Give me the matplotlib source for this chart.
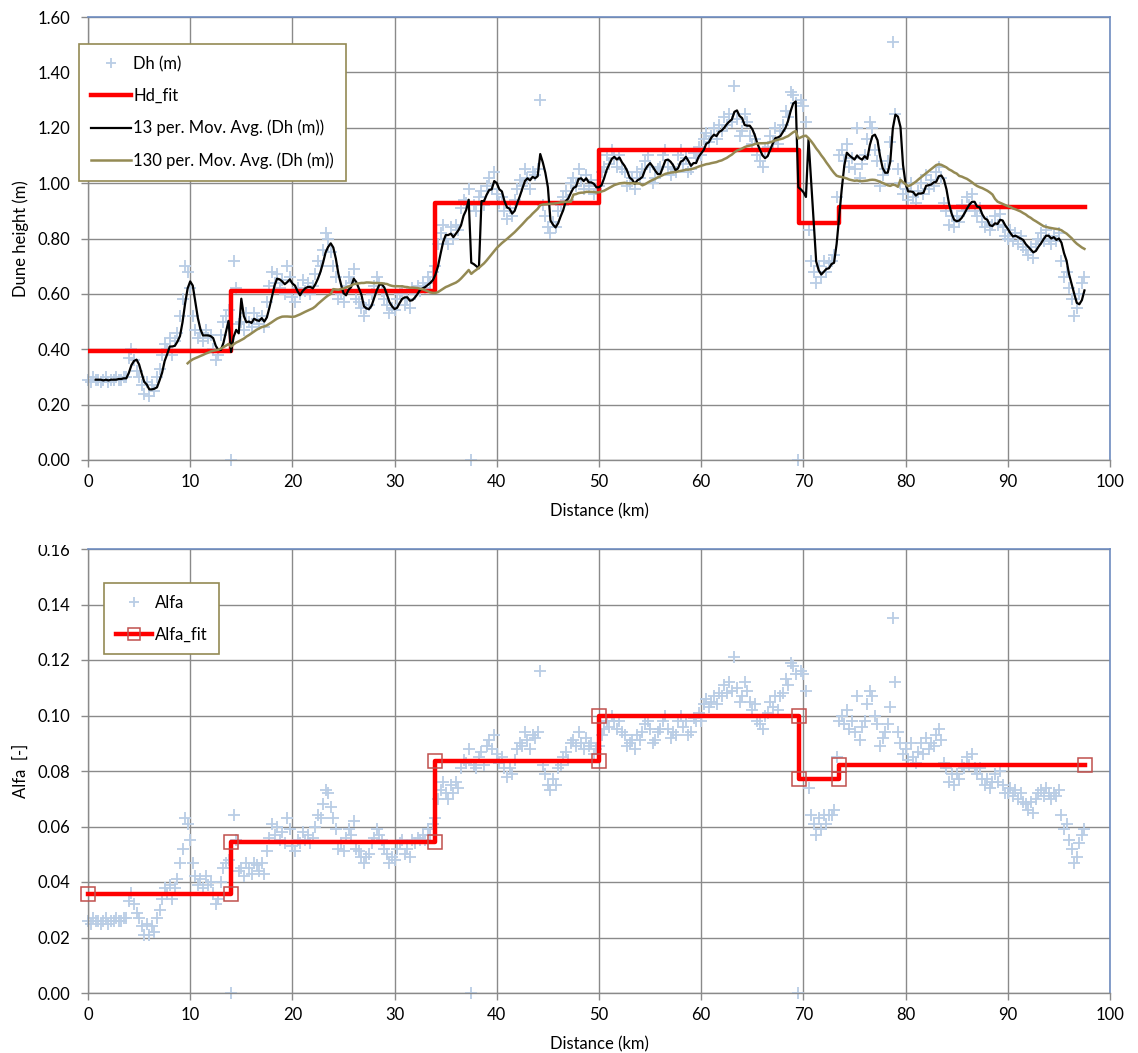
import numpy as np
import pandas as pd
import matplotlib
matplotlib.use("Agg")
import matplotlib.pyplot as plt
from matplotlib.patches import Rectangle
from matplotlib.ticker import FormatStrFormatter, MultipleLocator

# ---------------- data ----------------
STEP_KM = 0.25  # spacing of the readings along the river (km)

# Dune height readings, in centimetres, one every STEP_KM from 0 km
DH_CM = [
    29, 28, 30, 29, 29, 28, 29, 30, 28, 29, 29, 30, 29, 29, 30, 30,
    37, 40, 36, 32, 30, 27, 24, 28, 23, 27, 25, 30, 33, 38, 42, 40,
    44, 38, 43, 46, 52, 58, 70, 68, 62, 52, 47, 44, 46, 43, 47, 44,
    45, 40, 36, 38, 45, 50, 52, 54, 0, 72, 62, 49, 50, 47, 53, 50,
    48, 53, 51, 49, 52, 48, 57, 63, 68, 64, 67, 62, 65, 60, 70, 66,
    59, 57, 62, 60, 65, 61, 64, 60, 63, 67, 72, 70, 76, 82, 80, 75,
    70, 66, 58, 60, 57, 63, 66, 64, 69, 58, 57, 55, 52, 55, 56, 60,
    63, 66, 64, 61, 58, 56, 53, 55, 54, 58, 60, 61, 56, 58, 55, 62,
    60, 63, 61, 64, 62, 66, 64, 68, 70, 78, 82, 85, 80, 78, 84, 80,
    85, 83, 91, 94, 93, 98, 0, 92, 90, 95, 97, 92, 99, 102, 98, 104,
    96, 93, 95, 90, 87, 91, 88, 94, 98, 101, 99, 105, 102, 98, 104, 103,
    105, 130, 92, 88, 84, 82, 86, 84, 90, 92, 95, 97, 94, 100, 102, 99,
    105, 101, 98, 103, 99, 101, 96, 98, 99, 104, 106, 110, 107, 112, 109, 106,
    110, 105, 104, 99, 100, 102, 98, 104, 102, 105, 108, 110, 106, 100, 102, 105,
    106, 110, 112, 106, 103, 105, 104, 110, 112, 107, 109, 104, 105, 111, 109, 113,
    110, 116, 118, 115, 117, 120, 116, 121, 119, 124, 121, 125, 122, 135, 123, 117,
    119, 125, 122, 117, 114, 116, 110, 108, 106, 112, 113, 117, 115, 120, 114, 119,
    121, 126, 124, 133, 132, 129, 0, 130, 128, 122, 83, 72, 68, 64, 70, 66,
    72, 68, 71, 72, 74, 95, 110, 112, 108, 114, 106, 109, 105, 120, 102, 107,
    110, 116, 122, 120, 112, 108, 99, 103, 105, 108, 115, 151, 125, 105, 100, 96,
    98, 94, 100, 95, 93, 97, 100, 96, 103, 98, 101, 99, 104, 106, 102, 93,
    90, 85, 88, 84, 88, 86, 92, 90, 95, 92, 96, 90, 88, 91, 86, 84,
    86, 83, 85, 88, 85, 89, 84, 81, 80, 83, 79, 82, 78, 81, 77, 76,
    74, 77, 73, 78, 80, 82, 79, 83, 80, 78, 81, 79, 82, 72, 66, 68,
    62, 58, 52, 55, 60, 64, 66,
]

# Alfa readings, in thousandths, same positions
ALFA_MILLI = [
    26, 25, 27, 26, 26, 25, 26, 27, 25, 26, 26, 27, 26, 26, 27, 27,
    33, 36, 32, 29, 27, 24, 21, 25, 21, 24, 22, 27, 30, 34, 38, 36,
    39, 34, 38, 41, 47, 52, 63, 61, 55, 47, 42, 39, 41, 38, 42, 39,
    40, 36, 32, 34, 40, 45, 47, 48, 0, 64, 55, 44, 45, 42, 47, 45,
    43, 47, 46, 44, 47, 43, 51, 56, 61, 57, 60, 55, 58, 54, 63, 59,
    53, 51, 55, 54, 58, 55, 57, 54, 56, 60, 64, 63, 68, 73, 72, 67,
    63, 59, 52, 54, 51, 56, 59, 57, 62, 52, 51, 49, 47, 49, 50, 54,
    56, 59, 57, 55, 52, 50, 47, 49, 48, 52, 54, 55, 50, 52, 49, 55,
    54, 56, 55, 57, 55, 59, 57, 61, 63, 70, 73, 76, 72, 70, 75, 72,
    76, 74, 81, 84, 83, 88, 0, 82, 81, 85, 87, 82, 89, 91, 88, 93,
    86, 83, 85, 81, 78, 81, 79, 84, 88, 90, 89, 94, 91, 88, 93, 92,
    94, 116, 82, 79, 75, 73, 77, 75, 81, 82, 85, 87, 84, 90, 91, 89,
    94, 90, 88, 92, 89, 90, 86, 88, 89, 93, 95, 98, 96, 100, 98, 95,
    98, 94, 93, 89, 90, 91, 88, 93, 91, 94, 97, 98, 95, 90, 91, 94,
    95, 98, 100, 95, 92, 94, 93, 98, 100, 96, 98, 93, 94, 99, 98, 101,
    98, 104, 106, 103, 105, 107, 104, 108, 107, 111, 108, 112, 109, 121, 110, 105,
    107, 112, 109, 105, 102, 104, 98, 97, 95, 100, 101, 105, 103, 107, 102, 107,
    108, 113, 111, 119, 118, 115, 0, 116, 115, 109, 74, 64, 61, 57, 63, 59,
    64, 61, 64, 64, 66, 85, 98, 100, 97, 102, 95, 98, 94, 107, 91, 96,
    98, 104, 109, 107, 100, 97, 89, 92, 94, 97, 103, 135, 112, 94, 90, 86,
    88, 84, 90, 85, 83, 87, 90, 86, 92, 88, 90, 89, 93, 95, 91, 83,
    81, 76, 79, 75, 79, 77, 82, 81, 85, 82, 86, 81, 79, 81, 77, 75,
    77, 74, 76, 79, 76, 80, 75, 72, 72, 74, 71, 73, 70, 72, 69, 68,
    66, 69, 65, 70, 72, 73, 71, 74, 72, 70, 72, 71, 73, 64, 59, 61,
    55, 52, 47, 49, 54, 57, 59,
]

# Step fits
FIT_X = [0.0, 14.0, 14.0, 34.0, 34.0, 50.0, 50.0, 69.6, 69.6, 73.5, 73.5, 97.6]
HD_FIT = [0.395, 0.395, 0.61, 0.61, 0.93, 0.93, 1.12, 1.12, 0.855, 0.855, 0.915, 0.915]
ALFA_FIT = [0.0355, 0.0355, 0.0545, 0.0545, 0.0835, 0.0835, 0.0998, 0.0998,
            0.077, 0.077, 0.082, 0.082]

# moving-average windows expressed in readings at STEP_KM spacing
WIN_SHORT = 4    # "13 per." (~1 km)
WIN_LONG = 40    # "130 per." (~10 km)

X_TICKS = list(range(0, 101, 10))

# ---------------- derived ----------------
dist = np.arange(len(DH_CM)) * STEP_KM
dh = np.array(DH_CM) / 100.0
alfa = np.array(ALFA_MILLI) / 1000.0
ma_short = pd.Series(dh).rolling(WIN_SHORT).mean().to_numpy()
ma_long = pd.Series(dh).rolling(WIN_LONG).mean().to_numpy()

# ---------------- style ----------------
plt.rcParams["font.family"] = ["Lato", "DejaVu Sans"]
FS = 12
SCAT_C = "#B9CDE5"
GRID_C = "#8A8A8A"
BLUE_SP = "#6E8CC0"
LEG_EDGE = "#948A54"

W, H = 1138, 1053
fig = plt.figure(figsize=(W / 100, H / 100), dpi=100)


def px_axes(left, top, right, bottom):
    return fig.add_axes([left / W, 1 - bottom / H, (right - left) / W, (bottom - top) / H])


def style_axes(ax):
    ax.set_xlim(0, 100)
    ax.set_xticks(X_TICKS)
    ax.grid(True, color=GRID_C, linewidth=1.0)
    ax.set_axisbelow(True)
    for s in ("left", "bottom"):
        ax.spines[s].set_color(GRID_C)
        ax.spines[s].set_linewidth(1.0)
    for s in ("top", "right"):
        ax.spines[s].set_color(BLUE_SP)
        ax.spines[s].set_linewidth(1.2)
    ax.tick_params(axis="both", direction="out", length=5, width=1.0, color=GRID_C,
                   labelsize=FS)
    ax.tick_params(axis="x", pad=5)
    ax.tick_params(axis="y", pad=8)
    ax.set_xlabel("Distance (km)", fontsize=FS, labelpad=10)


# ---- top chart ----
ax1 = px_axes(88, 17, 1110, 460)
style_axes(ax1)
ax1.set_ylim(0, 1.6)
ax1.yaxis.set_major_locator(MultipleLocator(0.2))
ax1.yaxis.set_major_formatter(FormatStrFormatter("%.2f"))
ax1.set_ylabel("Dune height (m)", fontsize=FS, labelpad=6)

ax1.plot(dist, dh, linestyle="none", marker="+", markersize=8, markeredgewidth=1.3,
         color=SCAT_C, label="Dh (m)", clip_on=False, zorder=2)
ax1.plot(FIT_X, HD_FIT, color="#FF0000", linewidth=3.2, label="Hd_fit", zorder=3)
ax1.plot(dist, ma_short, color="black", linewidth=1.6,
         label="13 per. Mov. Avg. (Dh (m))", zorder=4)
ax1.plot(dist, ma_long, color="#948A54", linewidth=1.8,
         label="130 per. Mov. Avg. (Dh (m))", zorder=4)

leg1 = ax1.legend(loc="upper left", bbox_to_anchor=(-0.0085, 0.938), fontsize=FS,
                  frameon=True, fancybox=False, framealpha=1, edgecolor=LEG_EDGE,
                  handlelength=2.4, handletextpad=0.15, labelspacing=0.95,
                  borderpad=0.7, borderaxespad=0, markerscale=0.9)
leg1.get_frame().set_linewidth(1.2)
leg1.set_zorder(10)

# ---- bottom chart ----
ax2 = px_axes(88, 549, 1110, 993)
style_axes(ax2)
ax2.set_ylim(0, 0.16)
ax2.yaxis.set_major_locator(MultipleLocator(0.02))
ax2.yaxis.set_major_formatter(FormatStrFormatter("%.2f"))
ax2.set_ylabel("Alfa  [-]", fontsize=FS, labelpad=6)

ax2.plot(dist, alfa, linestyle="none", marker="+", markersize=8, markeredgewidth=1.3,
         color=SCAT_C, label="Alfa", clip_on=False, zorder=2)
ax2.plot(FIT_X, ALFA_FIT, color="#FF0000", linewidth=3.2, marker="s", markersize=9.5,
         markerfacecolor="none", markeredgecolor="#C0504D", markeredgewidth=1.1,
         label="Alfa_fit", zorder=3, clip_on=False)

leg2 = ax2.legend(loc="upper left", bbox_to_anchor=(0.0157, 0.923), fontsize=FS,
                  frameon=True, fancybox=False, framealpha=1, edgecolor=LEG_EDGE,
                  handlelength=2.2, handletextpad=0.15, labelspacing=0.95,
                  borderpad=0.7, borderaxespad=0, markerscale=0.9)
leg2.get_frame().set_linewidth(1.2)
leg2.set_zorder(10)

# the top tick label of the lower chart is partly hidden in the reference
fig.patches.append(Rectangle((0, 1 - 545 / H), 86 / W, 20 / H, transform=fig.transFigure,
                             facecolor="white", edgecolor="none", zorder=20))

fig.savefig("out.png", dpi=100, facecolor="white")
